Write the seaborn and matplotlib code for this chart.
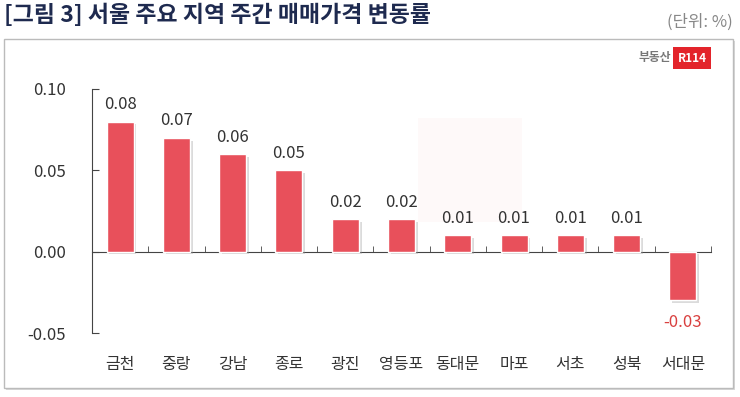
import numpy as np
import matplotlib
matplotlib.use('Agg')
import matplotlib.pyplot as plt
import matplotlib.patches as mpatches
import matplotlib.patheffects as pe
from matplotlib.transforms import blended_transform_factory
import seaborn as sns

# data
regions = ['금천', '중랑', '강남', '종로', '광진', '영등포', '동대문', '마포', '서초', '성북', '서대문']
values = [0.08, 0.07, 0.06, 0.05, 0.02, 0.02, 0.01, 0.01, 0.01, 0.01, -0.03]
yticks = [-0.05, 0.00, 0.05, 0.10]

BAR_COLOR = '#E8505B'
TEXT_COLOR = '#333333'

sns.set_style('white')
plt.rcParams['font.family'] = ['Noto Sans CJK KR', 'DejaVu Sans']

fig = plt.figure(figsize=(7.4, 3.97), dpi=100)
W, H = 740, 397

# outer frame with a light shadow
fig.patches.append(mpatches.Rectangle((6 / W, 1 - 390 / H), 729 / W, 349 / H,
                                      transform=fig.transFigure, facecolor='#D8D8D8',
                                      edgecolor='none', zorder=-2))
fig.patches.append(mpatches.Rectangle((4 / W, 1 - 388 / H), 729 / W, 349 / H,
                                      transform=fig.transFigure, facecolor='white',
                                      edgecolor='#BBBBBB', linewidth=1.0, zorder=-1))

# title
fig.text(4 / W, 1 - 15 / H, '[그림 3] 서울 주요 지역 주간 매매가격 변동률', fontsize=16.5,
         fontweight='bold', color='#1E2A4F', ha='left', va='center')
fig.text(733 / W, 1 - 22 / H, '(단위: %)', fontsize=12, color='#888888',
         ha='right', va='center')

# logo
fig.text(671 / W, 1 - 58 / H, '부동산', fontsize=8.5, fontweight='bold', color='#777777',
         ha='right', va='center')
fig.text(692 / W, 1 - 58 / H, 'R114', fontsize=8.5, fontweight='bold', color='white',
         ha='center', va='center',
         bbox=dict(boxstyle='square,pad=0.35', facecolor='#E3242B', edgecolor='none'))

# faint watermark block
fig.patches.append(mpatches.Rectangle((418 / W, 1 - 222 / H), 104 / W, 104 / H,
                                      transform=fig.transFigure, facecolor='#E8505B',
                                      alpha=0.03, edgecolor='none', zorder=-0.5))

ax = fig.add_axes([92 / W, 1 - 333 / H, 619 / W, 244 / H])
ax.patch.set_alpha(0)

sns.barplot(x=regions, y=values, color=BAR_COLOR, saturation=1, width=0.48, ax=ax, zorder=3)
for p in ax.patches:
    p.set_path_effects([pe.SimplePatchShadow(offset=(2, -2), shadow_rgbFace='#999999', alpha=0.35),
                        pe.Normal()])

ax.set_xlim(-0.5, len(regions) - 0.5)
ax.set_ylim(-0.05, 0.10)

for i, v in enumerate(values):
    if v >= 0:
        ax.annotate(f'{v:.2f}', (i, v), xytext=(0, 6), textcoords='offset points',
                    ha='center', va='bottom', fontsize=12, color=TEXT_COLOR)
    else:
        ax.annotate(f'{v:.2f}', (i, v), xytext=(0, -10), textcoords='offset points',
                    ha='center', va='top', fontsize=12, color='#D9403F')

# spines and ticks
for s in ['top', 'right']:
    ax.spines[s].set_visible(False)
ax.spines['left'].set_color('#444444')
ax.spines['bottom'].set_color('#444444')
ax.spines['bottom'].set_position(('data', 0))

ax.set_yticks(yticks)
ax.set_yticklabels([f'{t:.2f}' for t in yticks])
ax.tick_params(axis='y', left=True, direction='in', length=5, pad=19, labelsize=12,
               labelcolor=TEXT_COLOR, color='#444444')

ax.set_xticks(np.arange(len(regions) + 1) - 0.5, minor=True)
ax.set_xticks(np.arange(len(regions)))
ax.set_xticklabels([])
ax.tick_params(axis='x', which='major', length=0)
ax.tick_params(axis='x', which='minor', bottom=True, direction='in', length=4, color='#444444')
ax.set_xlabel('')

trans = blended_transform_factory(ax.transData, ax.transAxes)
for i, r in enumerate(regions):
    ax.text(i, -0.13, r, transform=trans, ha='center', va='center', fontsize=11.5,
            color=TEXT_COLOR)

fig.savefig('out.png', dpi=100)
